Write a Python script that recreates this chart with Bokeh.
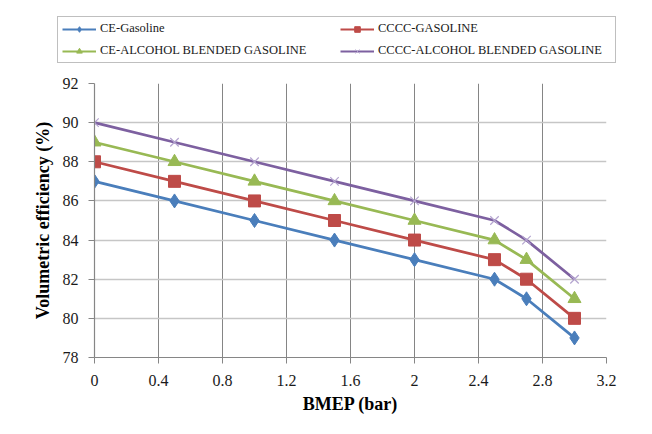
from bokeh.plotting import figure
from bokeh.models import Legend, LegendItem, Range1d, FixedTicker
from bokeh.embed import file_html
from bokeh.resources import INLINE

# ---- data ----
bmep = [0, 0.5, 1.0, 1.5, 2.0, 2.5, 2.7, 3.0]
ce_gasoline = [87, 86, 85, 84, 83, 82, 81, 79]
cccc_gasoline = [88, 87, 86, 85, 84, 83, 82, 80]
ce_alcohol = [89, 88, 87, 86, 85, 84, 83, 81]
cccc_alcohol = [90, 89, 88, 87, 86, 85, 84, 82]
x_ticks = [0, 0.4, 0.8, 1.2, 1.6, 2.0, 2.4, 2.8, 3.2]
x_tick_labels = ["0", "0.4", "0.8", "1.2", "1.6", "2", "2.4", "2.8", "3.2"]
y_ticks = [78, 80, 82, 84, 86, 88, 90, 92]
series_names = ["CE-Gasoline", "CCCC-GASOLINE", "CE-ALCOHOL BLENDED GASOLINE",
                "CCCC-ALCOHOL BLENDED GASOLINE"]

FONT = "Liberation Serif"
blue, red, green, purple = "#4A7EBB", "#BE4B48", "#98B954", "#7D60A0"
xcol = "#b4a4cf"

# ---------------- main chart ----------------
p = figure(width=652, height=364, output_backend="svg", toolbar_location=None,
           x_range=Range1d(0, 3.2), y_range=Range1d(78, 92),
           min_border_left=94, min_border_right=46, min_border_top=13,
           min_border_bottom=77)
p.outline_line_color = None
p.background_fill_color = "white"
p.border_fill_color = "white"

p.xgrid.ticker = FixedTicker(ticks=x_ticks)
p.ygrid.ticker = FixedTicker(ticks=y_ticks)
p.xgrid.grid_line_color = "#858585"
p.xgrid.grid_line_width = 1
p.ygrid.grid_line_color = "#c6c6c6"
p.ygrid.grid_line_width = 1.6

for ax in (p.xaxis[0], p.yaxis[0]):
    ax.axis_line_color = "#868686"
    ax.axis_line_width = 1.2
    ax.major_tick_line_color = "#868686"
    ax.major_tick_out = 6
    ax.major_tick_in = 0
    ax.minor_tick_line_color = None
    ax.major_label_text_font = FONT
    ax.major_label_text_font_size = "16px"
    ax.major_label_text_color = "#1a1a1a"
    ax.axis_label_text_font = FONT
    ax.axis_label_text_font_size = "18px"
    ax.axis_label_text_font_style = "bold"
    ax.axis_label_text_color = "black"

p.xaxis.ticker = FixedTicker(ticks=x_ticks)
p.xaxis.major_label_overrides = {t: l for t, l in zip(x_ticks, x_tick_labels)}
p.xaxis.major_label_standoff = 11
p.xaxis.axis_label = "BMEP (bar)"
p.xaxis.axis_label_standoff = 5
p.yaxis.ticker = FixedTicker(ticks=y_ticks)
p.yaxis.major_label_standoff = 10
p.yaxis.axis_label = "Volumetric efficiency (%)"
p.yaxis.axis_label_standoff = 7

lw = 2.75
p.line(bmep, ce_gasoline, line_color=blue, line_width=lw)
p.scatter(bmep, ce_gasoline, marker="diamond", size=14, fill_color=blue,
          line_color=blue)
p.line(bmep, cccc_gasoline, line_color=red, line_width=lw)
p.scatter(bmep, cccc_gasoline, marker="square", size=12, fill_color=red,
          line_color=red)
p.line(bmep, ce_alcohol, line_color=green, line_width=lw)
p.scatter(bmep, ce_alcohol, marker="triangle", size=13, fill_color=green,
          line_color=green)
p.line(bmep, cccc_alcohol, line_color=purple, line_width=lw)
p.scatter(bmep, cccc_alcohol, marker="x", size=12, line_color=xcol,
          line_width=1.2)

# ---------------- legend strip (separate figure above the chart) ----------------
lg = figure(width=652, height=70, output_backend="svg", toolbar_location=None,
            x_axis_location=None, y_axis_location=None,
            x_range=Range1d(0, 1), y_range=Range1d(0, 1),
            min_border_left=0, min_border_right=0, min_border_top=0,
            min_border_bottom=0)
lg.outline_line_color = None
lg.grid.visible = False
lg.border_fill_color = "white"
lg.background_fill_color = "white"

# the legend-key renderers carry the series but lie outside this strip's ranges
def key(ys, color, marker, size, mcolor, fill=True):
    ln = lg.line(bmep, ys, line_color=color, line_width=2)
    sc = lg.scatter(bmep, ys, marker=marker, size=size, line_color=mcolor,
                    fill_color=mcolor if fill else None)
    return [ln, sc]

r1 = key(ce_gasoline, blue, "diamond", 9, blue)
r2 = key(cccc_gasoline, red, "square", 7, red)
r3 = key(ce_alcohol, green, "triangle", 8, green)
r4 = key(cccc_alcohol, purple, "x", 8, xcol, fill=False)

# column-major fill: column 1 = CE series, column 2 = CCCC series
items = [LegendItem(label=series_names[0], renderers=r1),
         LegendItem(label=series_names[2], renderers=r3),
         LegendItem(label=series_names[1], renderers=r2),
         LegendItem(label=series_names[3], renderers=r4)]
legend = Legend(items=items, ncols=2, location=(57, 7),
                label_text_font=FONT, label_text_font_size="12.5px",
                label_text_color="#1a1a1a",
                glyph_width=34, glyph_height=14, label_height=14,
                label_width=233, label_standoff=4, spacing=7, padding=4,
                margin=0,
                border_line_color="#808080", border_line_width=1.5,
                background_fill_color="white", background_fill_alpha=1)
lg.add_layout(legend, "center")

open("out.html", "w").write(file_html([lg, p], INLINE))
